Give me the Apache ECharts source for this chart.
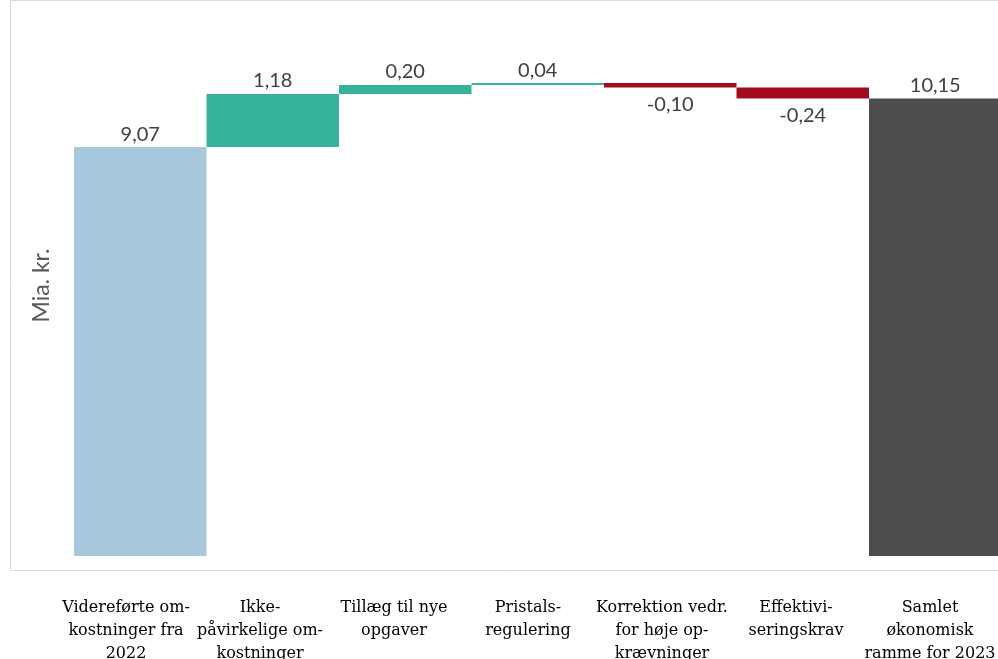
<!DOCTYPE html>
<html>
<head>
<meta charset="utf-8">
<script src="https://cdn.jsdelivr.net/npm/echarts@6/dist/echarts.min.js"></script>
<style>
  html, body { margin: 0; padding: 0; background: #fff; }
  #chart { width: 998px; height: 659px; }
</style>
</head>
<body>
<div id="chart"></div>
<script>
// Budget bridge 2022 -> 2023 (billion DKK)
const categories = [
  'Videreførte om-\nkostninger fra\n2022',
  'Ikke-\npåvirkelige om-\nkostninger',
  'Tillæg til nye\nopgaver',
  'Pristals-\nregulering',
  'Korrektion vedr.\nfor høje op-\nkrævninger',
  'Effektivi-\nseringskrav',
  'Samlet\nøkonomisk\nramme for 2023'
];
const values = [9.07, 1.18, 0.20, 0.04, -0.10, -0.24, 10.15];
// first and last bars are totals, the rest are changes
const isTotal = [true, false, false, false, false, false, true];

const colStart = '#A7C8DC';
const colEnd = '#4D4D4D';
const colUp = '#36B39A';
const colDown = '#A20A1E';

// invisible base + visible segment for each bar
const baseData = [];
const barData = [];
let running = 0;
values.forEach((v, i) => {
  if (isTotal[i]) {
    baseData.push(0);
    running = v;
    barData.push({
      value: v,
      itemStyle: { color: i === 0 ? colStart : colEnd },
      label: { position: 'top', distance: 3 }
    });
  } else {
    const after = running + v;
    baseData.push(Math.min(running, after));
    barData.push({
      value: Math.abs(v),
      itemStyle: { color: v >= 0 ? colUp : colDown },
      label: v >= 0 ? { position: 'top', distance: 3 } : { position: 'bottom', distance: 7 }
    });
    running = after;
  }
});

const fmt = v => v.toFixed(2).replace('.', ',');

const chart = echarts.init(document.getElementById('chart'), null, { renderer: 'canvas' });
chart.setOption({
  animation: false,
  backgroundColor: '#ffffff',
  graphic: [{
    type: 'rect',
    shape: { x: 10.5, y: 0.5, width: 1000, height: 570 },
    style: { fill: 'none', stroke: '#d9d9d9', lineWidth: 1 },
    silent: true,
    z: -1
  }],
  grid: [
    // plot area for the bars
    { left: 74, right: -3.5, top: 15, bottom: 103, outerBoundsMode: 'none', containLabel: false },
    // category text row below the plot, laid out on its own spacing
    { left: 59, right: 1, top: 15, bottom: 103, outerBoundsMode: 'none', containLabel: false }
  ],
  xAxis: [
    {
      type: 'category',
      gridIndex: 0,
      data: categories,
      axisLine: { show: false },
      axisTick: { show: false },
      axisLabel: { show: false }
    },
    {
      type: 'category',
      gridIndex: 1,
      data: categories,
      axisLine: { show: false },
      axisTick: { show: false },
      axisLabel: {
        interval: 0,
        margin: 40,
        color: '#000000',
        fontFamily: 'DejaVu Serif',
        fontSize: 16,
        lineHeight: 23,
        align: 'center'
      }
    }
  ],
  yAxis: [
    {
      type: 'value',
      gridIndex: 0,
      min: 0,
      max: 12,
      axisLine: { show: false },
      axisTick: { show: false },
      axisLabel: { show: false },
      splitLine: { show: false },
      name: 'Mia. kr.',
      nameLocation: 'middle',
      nameRotate: 90,
      nameGap: 21,
      nameTextStyle: { color: '#595959', fontFamily: 'Lato', fontSize: 23 }
    },
    {
      type: 'value',
      gridIndex: 1,
      min: 0,
      max: 12,
      show: false
    }
  ],
  series: [
    {
      type: 'bar',
      stack: 'w',
      barWidth: '100%',
      data: baseData,
      itemStyle: { color: 'transparent' },
      silent: true
    },
    {
      type: 'bar',
      stack: 'w',
      barWidth: '100%',
      data: barData,
      label: {
        show: true,
        color: '#404040',
        fontFamily: 'Lato',
        fontSize: 20,
        formatter: p => fmt(values[p.dataIndex])
      }
    }
  ]
});
</script>
</body>
</html>
